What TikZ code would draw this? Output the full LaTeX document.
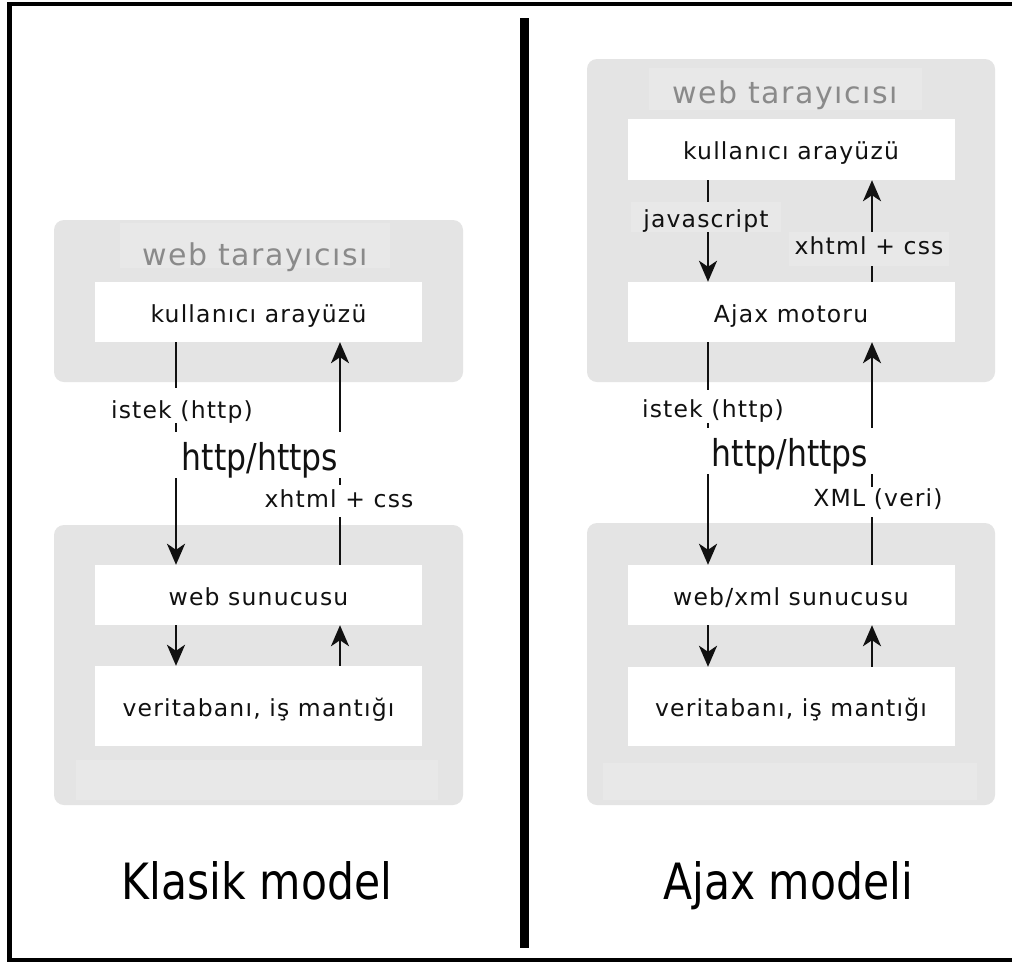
\documentclass[tikz,border=0pt]{standalone}
\usepackage{fontspec}
\setmainfont{DejaVu Sans}
\newfontfamily\lblfont{DejaVu Sans}[LetterSpace=5]
\newfontfamily\condfont{DejaVu Sans}[FakeStretch=0.85]
\usetikzlibrary{arrows.meta}
\definecolor{boxgray}{HTML}{E4E4E4}
\definecolor{boxlight}{HTML}{E8E8E8}
\definecolor{titlegray}{HTML}{8A8A8A}
\definecolor{ink}{HTML}{111111}
\begin{document}
\begin{tikzpicture}[x=1pt,y=-1pt,
  panel/.style={fill=boxgray, rounded corners=10pt},
  band/.style={fill=boxlight},
  wbox/.style={fill=white, inner sep=0pt, minimum width=327pt, minimum height=60pt,
    text height=20pt, text depth=0pt, font=\lblfont\fontsize{23.5}{27}\selectfont, text=ink},
  ttl/.style={fill=boxlight, inner sep=0pt, anchor=base, text=titlegray,
    font=\lblfont\fontsize{30}{33}\selectfont},
  lbl/.style={fill=white, inner xsep=3pt, inner ysep=0pt, anchor=base, text=ink,
    font=\lblfont\fontsize{23.5}{27}\selectfont},
  big/.style={fill=white, inner sep=0pt, anchor=base, text=ink, minimum width=176pt,
    minimum height=46pt, text height=30pt, text depth=0pt,
    font=\condfont\fontsize{37}{41}\selectfont},
  model/.style={anchor=base, inner sep=0pt, text=black, font=\condfont\fontsize{50}{54}\selectfont},
  arr/.style={draw=ink, line width=2.8pt, -{Stealth[length=21pt,width=18pt,inset=6pt]}},
  frame/.style={draw=black, line width=4pt}
]
\useasboundingbox (0,0) rectangle (1012,962);
\fill[white] (0,0) rectangle (1012,962);

% ---------- panels ----------
\fill[panel] (54,220) rectangle (463,382);
\fill[panel] (54,525) rectangle (463,805);
\fill[panel] (587,59) rectangle (995,382);
\fill[panel] (587,523) rectangle (995,805);
\fill[band] (76,760) rectangle (438,800);
\fill[band] (603,763) rectangle (977,800);

% ---------- titles ----------
\node[ttl, minimum width=270pt, text height=42pt, text depth=3pt] (tL) at (255,265) {web tarayıcısı};
\node[ttl, minimum width=273pt, text height=35pt, text depth=7pt] (tR) at (785,103) {web tarayıcısı};

% ---------- white boxes, left ----------
\node[wbox] (kuL) at (258.5,312) {kullanıcı arayüzü};
\node[wbox] (wsL) at (258.5,595) {web sunucusu};
\node[wbox, minimum height=80pt] (vtL) at (258.5,706) {veritabanı, iş mantığı};

% ---------- white boxes, right ----------
\node[wbox, minimum height=61pt] (kuR) at (791,149.5) {kullanıcı arayüzü};
\node[wbox] (ajR) at (791,312) {Ajax motoru};
\node[wbox] (wxR) at (791,595) {web/xml sunucusu};
\node[wbox, minimum height=79pt] (vtR) at (791,706.5) {veritabanı, iş mantığı};

% ---------- arrows, left ----------
\draw[arr] ([xshift=-82.5pt]kuL.south) -- ([xshift=-82.5pt]wsL.north);
\draw[arr] ([xshift=81.5pt]wsL.north) -- ([xshift=81.5pt]kuL.south);
\draw[arr] ([xshift=-82.5pt]wsL.south) -- ([xshift=-82.5pt]vtL.north);
\draw[arr] ([xshift=81.5pt]vtL.north) -- ([xshift=81.5pt]wsL.south);

% ---------- arrows, right ----------
\draw[arr] ([xshift=-83pt]kuR.south) -- ([xshift=-83pt]ajR.north);
\draw[arr] ([xshift=81pt]ajR.north) -- ([xshift=81pt]kuR.south);
\draw[arr] ([xshift=-83pt]ajR.south) -- ([xshift=-83pt]wxR.north);
\draw[arr] ([xshift=81pt]wxR.north) -- ([xshift=81pt]ajR.south);
\draw[arr] ([xshift=-83pt]wxR.south) -- ([xshift=-83pt]vtR.north);
\draw[arr] ([xshift=81pt]vtR.north) -- ([xshift=81pt]wxR.south);

% ---------- labels, left ----------
\node[lbl, text height=30pt, text depth=5pt] (isL) at (182,418) {istek (http)};
\node[big] (hL) at (260,470) {http/https};
\node[lbl, text height=22pt, text depth=10pt] (xcL) at (339,507) {xhtml + css};

% ---------- labels, right ----------
\node[lbl, fill=boxlight, inner xsep=12pt, text height=25pt, text depth=5pt] (jsR) at (706,227) {javascript};
\node[lbl, fill=boxlight, inner xsep=6pt, text height=22pt, text depth=12pt] (xcR) at (869,254) {xhtml + css};
\node[lbl, text height=27pt, text depth=6pt] (isR) at (713,417) {istek (http)};
\node[big] (hR) at (790,466) {http/https};
\node[lbl, text height=19pt, text depth=11pt] (xmR) at (878,506) {XML (veri)};

% ---------- captions ----------
\node[model] (capL) at (257,899) {Klasik model};
\node[model] (capR) at (788,899) {Ajax modeli};

% ---------- divider and frame ----------
\draw[line width=9pt, black] (524,18) -- (524,948);
\draw[frame] (7,4) -- (1012,4);
\draw[frame, line width=5pt] (9.5,2) -- (9.5,962);
\draw[frame] (7,960) -- (1012,960);
\end{tikzpicture}
\end{document}
